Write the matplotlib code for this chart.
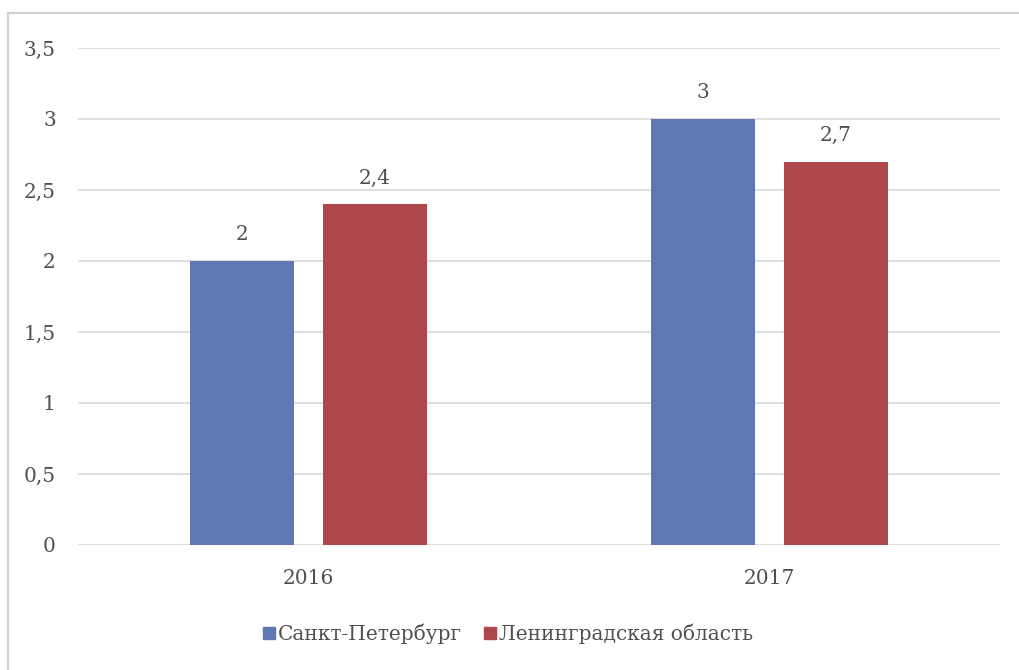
import matplotlib
matplotlib.use("Agg")
import matplotlib.pyplot as plt
import numpy as np
from matplotlib.lines import Line2D

years = ["2016", "2017"]
spb = [2, 3]
lenobl = [2.4, 2.7]
series_names = ["Санкт-Петербург", "Ленинградская область"]
yticks = [0, 0.5, 1, 1.5, 2, 2.5, 3, 3.5]

BLUE = "#5f77b3"
RED = "#ad474c"
TEXT = "#4f4f4f"
FS = 14.5

plt.rcParams["font.family"] = ["DejaVu Serif"]

W, H = 1020, 670
fig = plt.figure(figsize=(W / 100, H / 100), dpi=100)
ax = fig.add_axes([78 / W, 1 - 545 / H, 922 / W, (545 - 48) / H])

x = np.arange(len(years))
width = 0.226
off = 0.144
b1 = ax.bar(x - off, spb, width, color=BLUE, zorder=3)
b2 = ax.bar(x + off, lenobl, width, color=RED, zorder=3)

def fmt(v):
    return f"{v:g}".replace(".", ",")

for bars, vals in ((b1, spb), (b2, lenobl)):
    for b, v in zip(bars, vals):
        ax.annotate(fmt(v), (b.get_x() + b.get_width() / 2, v),
                    xytext=(0, 12), textcoords="offset points",
                    ha="center", va="bottom", fontsize=FS, color=TEXT)

ax.set_xlim(-0.5, 1.5)
ax.set_ylim(0, 3.5)
ax.set_yticks(yticks)
ax.set_yticklabels([fmt(t) for t in yticks], fontsize=FS, color=TEXT)
ax.set_xticks(x)
ax.set_xticklabels(years, fontsize=FS, color=TEXT)
ax.tick_params(length=0)
ax.tick_params(axis="y", pad=16)
ax.tick_params(axis="x", pad=17)
ax.grid(axis="y", color="#d9d9d9", linewidth=1.2, zorder=0)
ax.set_axisbelow(True)
for s in ax.spines.values():
    s.set_visible(False)

handles = [Line2D([], [], marker="s", linestyle="none", markersize=8,
                  markerfacecolor=c, markeredgecolor=c) for c in (BLUE, RED)]
fig.legend(handles, series_names, loc="center", bbox_to_anchor=(507 / W, 1 - 634 / H),
           ncol=2, frameon=False, fontsize=FS, labelcolor=TEXT,
           handletextpad=0.05, columnspacing=1.0, handlelength=0.8)

# thin frame along the top and left edge
fig.add_artist(Line2D([8 / W, 1], [1 - 13 / H, 1 - 13 / H], color="#d0d0d0", linewidth=1.5))
fig.add_artist(Line2D([8 / W, 8 / W], [0, 1 - 13 / H], color="#d0d0d0", linewidth=1.5))

fig.savefig("out.png", dpi=100, facecolor="white")
